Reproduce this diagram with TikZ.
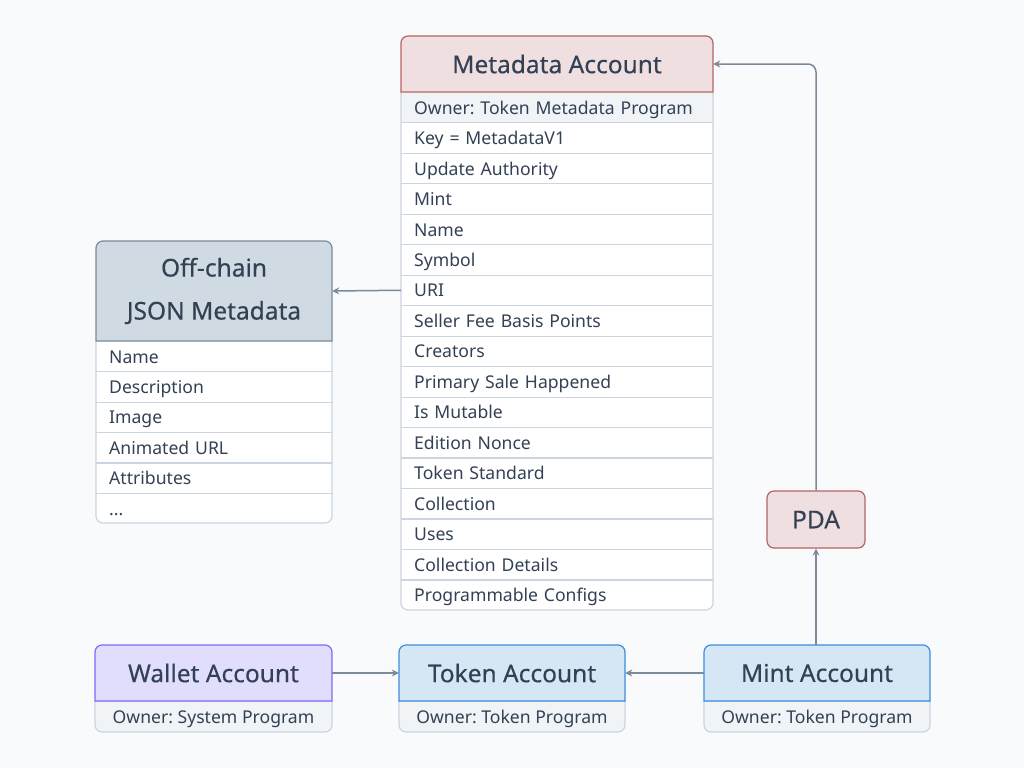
\documentclass[tikz,border=0pt]{standalone}
\usepackage{fontspec}
\setmainfont{Noto Sans}
\frenchspacing
\usetikzlibrary{arrows.meta}
\definecolor{bg}{HTML}{F8FAFC}
\definecolor{txt}{HTML}{334155}
\definecolor{rowline}{HTML}{CBD5E1}
\definecolor{ownerfill}{HTML}{F1F4F7}
\definecolor{metafill}{HTML}{F0DFE1}
\definecolor{metastroke}{HTML}{B86464}
\definecolor{offfill}{HTML}{CFDAE3}
\definecolor{offstroke}{HTML}{7B8A99}
\definecolor{walfill}{HTML}{E1DDFC}
\definecolor{walstroke}{HTML}{7B6CF6}
\definecolor{tokfill}{HTML}{D5E6F5}
\definecolor{tokstroke}{HTML}{3B8EDE}
\definecolor{arr}{HTML}{7B8B9B}
\tikzset{
  hdrtxt/.style={draw=none, inner sep=0pt, text=txt, font=\fontsize{24.5}{43}\selectfont\addfontfeature{FakeBold=0.35}, align=center},
  rowtxt/.style={draw=none, inner xsep=13pt, inner ysep=0pt, text=txt, font=\fontsize{17.6}{20}\selectfont, align=left, anchor=north west, text height=15pt, text depth=1.6pt},
  ownertxt/.style={draw=none, inner sep=0pt, text=txt, font=\fontsize{17.6}{20}\selectfont, text height=15pt, text depth=1.6pt},
  sep/.style={draw=rowline, line width=1.2pt},
  conn/.style={draw=arr, line width=1.5pt, -{Stealth[length=7pt,width=7pt]}},
}
% header: name, x1, y1, x2, y2, path style, text
\newcommand\acchdr[7]{%
  \path[#6, line width=1.2pt] (#2,#5) [rounded corners=7pt] -- (#2,#3) -- (#4,#3) [sharp corners] -- (#4,#5) -- cycle;
  \node[hdrtxt, minimum width={#4-#2}, minimum height={#5-#3}] (#1) at ({(#2+#4)/2},{(#3+#5)/2}) {#7};
}
% owner foot row: name, x1, y1, x2, y2, text
\newcommand\accfoot[6]{%
  \path[fill=ownerfill, draw=rowline, line width=1.2pt] (#2,#3) [rounded corners=7pt] -- (#2,#5) -- (#4,#5) [sharp corners] -- (#4,#3) -- cycle;
  \node[ownertxt, minimum width={#4-#2}, minimum height={#5-#3}] (#1) at ({(#2+#4)/2},{(#3+#5)/2}) {#6};
}
\begin{document}
\begin{tikzpicture}[x=1pt,y=-1pt]
\useasboundingbox[fill=bg] (0,0) rectangle (1024,768);

% ---------------- Metadata Account ----------------
\fill[white, rounded corners=7pt] (401,36) rectangle (713,610);
\fill[ownerfill] (401,92) rectangle (713,122.5);
\foreach [count=\i from 0] \t in {Owner: Token Metadata Program, Key = MetadataV1, Update Authority, Mint, Name, Symbol, URI, Seller Fee Basis Points, Creators, Primary Sale Happened, Is Mutable, Edition Nonce, Token Standard, Collection, Uses, Collection Details, Programmable Configs}{
  \node[rowtxt, text width=286pt, minimum height=30.47pt] (m\i) at (401,{92+\i*30.47}) {\t};
}
\foreach \i in {0,1,2,3,4,5,6,7,8,9,10,11,12,13,14,15}{
  \draw[sep] (m\i.south west) -- (m\i.south east);
}
\draw[sep] (401,92) [rounded corners=7pt] -- (401,610) -- (713,610) [sharp corners] -- (713,92);
\acchdr{meta}{401}{36}{713}{92}{fill=metafill, draw=metastroke}{Metadata Account}

% ---------------- Off-chain JSON Metadata ----------------
\fill[white, rounded corners=7pt] (96,241) rectangle (332,523);
\foreach [count=\i from 0] \t in {Name, Description, Image, Animated URL, Attributes}{
  \node[rowtxt, text width=210pt, minimum height=30.4pt] (o\i) at (96,{341+\i*30.4}) {\t};
}
\node[rowtxt, text width=210pt, minimum height=30.4pt] (o5) at (96,493) {...};
\foreach \i in {0,1,2,3,4}{
  \draw[sep] (o\i.south west) -- (o\i.south east);
}
\draw[sep] (96,341) [rounded corners=7pt] -- (96,523) -- (332,523) [sharp corners] -- (332,341);
\acchdr{off}{96}{241}{332}{341}{fill=offfill, draw=offstroke}{Off-chain\\JSON Metadata}

% ---------------- Bottom accounts ----------------
\accfoot{walown}{95}{701}{332}{732}{Owner: System Program}
\acchdr{wal}{95}{645}{332}{701}{fill=walfill, draw=walstroke}{Wallet Account}
\accfoot{tokown}{399}{701}{625}{732}{Owner: Token Program}
\acchdr{tok}{399}{645}{625}{701}{fill=tokfill, draw=tokstroke}{Token Account}
\accfoot{mintown}{704}{701}{930}{732}{Owner: Token Program}
\acchdr{mint}{704}{645}{930}{701}{fill=tokfill, draw=tokstroke}{Mint Account}

% ---------------- PDA ----------------
\node[hdrtxt, fill=metafill, draw=metastroke, line width=1.2pt, rounded corners=7pt, minimum width=98pt, minimum height=57pt] (pda) at (816,519.5) {PDA};

% ---------------- Connectors ----------------
\draw[conn] (m6.west) -- (off.east);
\draw[conn] (wal.east) -- (tok.west);
\draw[conn] (mint.west) -- (tok.east);
\draw[conn] (mint.north -| pda.south) -- (pda.south);
\draw[conn, rounded corners=8pt] (pda.north) |- (meta.east);
\end{tikzpicture}
\end{document}
